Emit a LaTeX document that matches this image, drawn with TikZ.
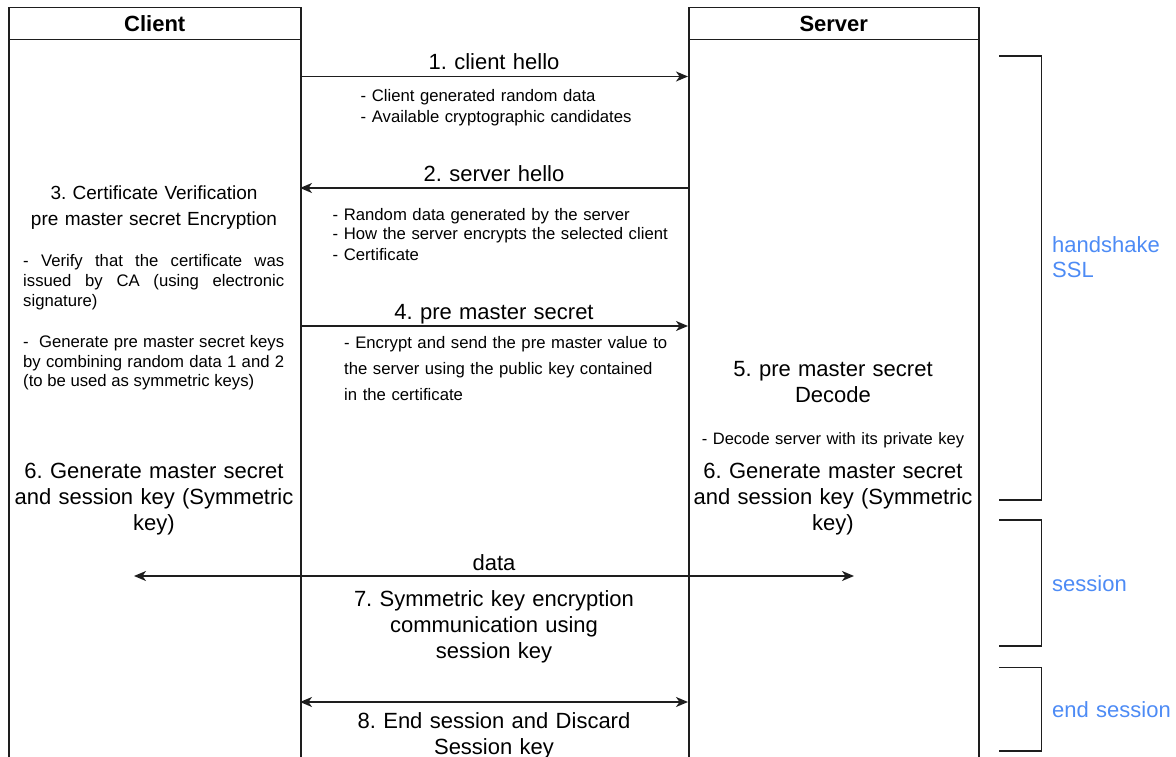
\documentclass[tikz,border=0pt]{standalone}
\usepackage{fontspec}
\setmainfont{Liberation Sans}
\usetikzlibrary{arrows.meta}
\definecolor{lbl}{RGB}{77,139,245}
\definecolor{ln}{RGB}{30,30,30}
\frenchspacing
\begin{document}
\begin{tikzpicture}[x=1pt,y=-1pt,
  box/.style={draw=ln, line width=1.5pt, inner sep=0pt, anchor=north west},
  msg/.style={draw=ln, line width=1.5pt, -{Stealth[length=12pt,width=10pt,inset=3.5pt]}},
  msgboth/.style={draw=ln, line width=1.5pt, {Stealth[length=12pt,width=10pt,inset=3.5pt]}-{Stealth[length=12pt,width=10pt,inset=3.5pt]}},
  brk/.style={draw=ln, line width=1.5pt},
  big/.style={font=\fontsize{22}{26}\selectfont, inner sep=0pt, anchor=base, align=center, text width=300pt},
  mid/.style={font=\fontsize{19}{26.7}\selectfont, inner sep=0pt, anchor=base, align=center, text width=290pt},
  note/.style={font=\fontsize{16.7}{21}\selectfont, inner sep=0pt, anchor=base west, align=left, text width=340pt},
  side/.style={font=\fontsize{22}{25.8}\selectfont, text=lbl, inner sep=0pt, anchor=base west, align=left, text width=122pt}
]
\useasboundingbox (0,0) rectangle (1176,757);

% lifeline boxes
\node[box, minimum width=292pt, minimum height=32pt, font=\fontsize{22}{26}\bfseries] (chead) at (8,7) {Client};
\node[box, minimum width=292pt, minimum height=718pt] (cbody) at (8,39) {};
\node[box, minimum width=290pt, minimum height=32pt, font=\fontsize{22}{26}\bfseries] (shead) at (688,7) {Server};
\node[box, minimum width=290pt, minimum height=718pt] (sbody) at (688,39) {};

% arrow end points
\coordinate (m1c) at (300,76.5);  \coordinate (m1s) at (688,76.5);
\coordinate (m2c) at (300,188);   \coordinate (m2s) at (688,188);
\coordinate (m4c) at (300,326);   \coordinate (m4s) at (688,326);
\coordinate (dl)  at (134,576);   \coordinate (dr)  at (854,576);
\coordinate (m8c) at (300,702);   \coordinate (m8s) at (688,702);

\draw[msg] (m1c) -- (m1s);
\draw[msg] (m2s) -- (m2c);
\draw[msg] (m4c) -- (m4s);
\draw[msgboth] (dl) -- (dr);
\draw[msgboth] (m8c) -- (m8s);

% message labels
\node[big] (l1) at (494,70) {1. client hello};
\node[note] (n1) at (360.5,101.5) {- Client generated random data\\- Available cryptographic candidates};
\node[big] (l2) at (494,181.7) {2. server hello};
\node[note, font=\fontsize{16.7}{20}\selectfont] (n2) at (332.5,220) {- Random data generated by the server\\- How the server encrypts the selected client\\- Certificate};
\node[big] (l4) at (494,319.3) {4. pre master secret};
\node[note, font=\fontsize{16.7}{26.2}\selectfont] (n4) at (344,348.3) {- Encrypt and send the pre master value to\\the server using the public key contained\\in the certificate};
\node[big] (ld) at (494,570) {data};
\node[big] (l7) at (494,606.7) {7. Symmetric key encryption\\communication using\\session key};
\node[big] (l8) at (494,728.3) {8. End session and Discard\\Session key};

% client side
\node[mid] (c3) at (154,199.3) {3. Certificate Verification\\pre master secret Encryption};
\node[note, text width=261pt, align=justify, font=\fontsize{16.7}{20}\selectfont] (c3a) at (23,266.7)
  {- Verify that the certificate was\linebreak issued by CA (using electronic\linebreak signature)};
\node[note, text width=261pt, align=justify, font=\fontsize{16.7}{19.7}\selectfont] (c3b) at (23,347.3)
  {-\ \ Generate pre master secret keys\linebreak by combining random data 1 and 2\linebreak (to be used as symmetric keys)};
\node[big] (c6) at (154,478.3) {6. Generate master secret\\and session key (Symmetric\\key)};

% server side
\node[big] (s5) at (833,376) {5. pre master secret\\Decode};
\node[note, anchor=base, align=center, text width=290pt, font=\fontsize{16.5}{20}\selectfont] (s5a) at (833,444.4) {- Decode server with its private key};
\node[big] (s6) at (833,478.3) {6. Generate master secret\\and session key (Symmetric\\key)};

% phase brackets
\draw[brk] (999,56) -- (1041.5,56) -- (1041.5,500) -- (999,500);
\draw[brk] (999,520) -- (1041.5,520) -- (1041.5,646) -- (999,646);
\draw[brk] (999,667.5) -- (1041.5,667.5) -- (1041.5,751) -- (999,751);

\node[side] (p1) at (1052,252) {handshake\\SSL};
\node[side] (p2) at (1052,591.8) {session};
\node[side] (p3) at (1052,717.4) {end session};
\end{tikzpicture}
\end{document}
